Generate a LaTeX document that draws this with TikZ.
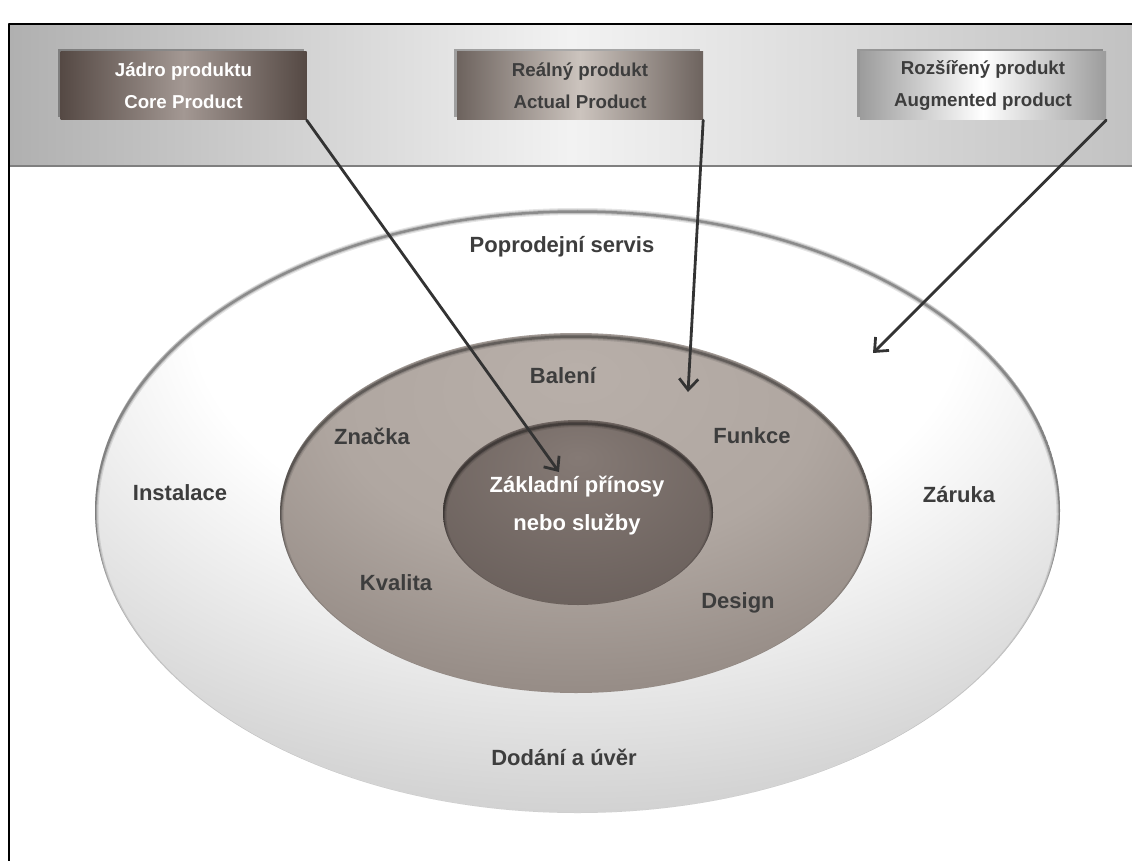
\documentclass[tikz,border=0pt]{standalone}
\usepackage{fontspec}
\setmainfont{Liberation Sans}
\usetikzlibrary{arrows.meta,shadows}

\definecolor{labelgray}{HTML}{3D3D3D}
\definecolor{arrowgray}{HTML}{333333}
\definecolor{bandside}{HTML}{B0B0B0}
\definecolor{bandmid}{HTML}{F2F2F2}
\definecolor{bandright}{HTML}{C2C2C2}
\definecolor{bandline}{HTML}{7F7F7F}
\definecolor{ringedge}{HTML}{B4B4B4}
\definecolor{coreedge}{HTML}{554944}
\definecolor{coremid}{HTML}{A39893}
\definecolor{actualedge}{HTML}{6D635E}
\definecolor{actualmid}{HTML}{CCC4BE}
\definecolor{augedge}{HTML}{9C9C9C}

% Shadings of the three rings (lighter towards the top).
\pgfdeclareradialshading{ringglow}{\pgfpoint{0bp}{22bp}}{%
  color(0bp)=(white); color(20bp)=(white); color(48bp)=(ringedge); color(80bp)=(ringedge)}
\pgfdeclareradialshading{midglow}{\pgfpoint{0bp}{20bp}}{%
  color(0bp)=(rgb,255:red,184;green,175;blue,169); color(20bp)=(rgb,255:red,176;green,167;blue,161);
  color(50bp)=(rgb,255:red,126;green,115;blue,109); color(75bp)=(rgb,255:red,112;green,101;blue,95)}
\pgfdeclareradialshading{coreglow}{\pgfpoint{0bp}{15bp}}{%
  color(0bp)=(rgb,255:red,133;green,122;blue,117); color(50bp)=(rgb,255:red,95;green,85;blue,81);
  color(75bp)=(rgb,255:red,87;green,77;blue,73)}

% Soft shadow along the inner top edge of an ellipse.
\newcommand\insetshadow[3]{%
  \begin{scope}
    \clip (#1) ellipse [x radius=#2, y radius=#3];
    \foreach \w/\o in {7pt/0.10,4.5pt/0.15,2.5pt/0.28}{
      \draw[line width=\w, black, opacity=\o] ([yshift=-3.5pt]#1) ellipse [x radius=#2, y radius=#3];
    }
  \end{scope}}

\begin{document}
\begin{tikzpicture}[
  x={(1pt,0pt)},
  y={(0pt,-1pt)},
  line join=round,
  line cap=round,
  prodbox/.style={minimum width=246pt,minimum height=68pt,inner sep=0pt,align=center,
    font=\fontsize{18.7}{32}\selectfont\bfseries,
    drop shadow={shadow xshift=-3pt,shadow yshift=3pt,opacity=0.3,fill=black}},
  ringlabel/.style={font=\fontsize{22}{38}\selectfont\bfseries,text=labelgray,align=center},
  pointer/.style={draw=arrowgray,line width=2.8pt,
    -{Straight Barb[length=11pt,width=19pt]}}
]
  \useasboundingbox (0,0) rectangle (1132,861);

  % Header band and frame.
  \shade[left color=bandside,right color=bandright,middle color=bandmid]
    (9,24) rectangle (1132,166);
  \draw[bandline,line width=1.6pt] (9,166) -- (1132,166);
  \draw[black,line width=1.6pt] (9,861) -- (9,24) -- (1132,24);

  % Ring centres.
  \coordinate (outerC) at (577.5,510.5);
  \coordinate (midC) at (576,513);
  \coordinate (coreC) at (578,512.5);

  % Augmented product ring.
  \shade[shading=ringglow] (outerC) ellipse [x radius=482.5pt,y radius=302.5pt];
  \insetshadow{outerC}{482.5pt}{302.5pt}

  % Actual product ring.
  \shade[shading=midglow] (midC) ellipse [x radius=296pt,y radius=180pt];
  \insetshadow{midC}{296pt}{180pt}

  % Core.
  \shade[shading=coreglow] (coreC) ellipse [x radius=135pt,y radius=92.5pt];
  \insetshadow{coreC}{135pt}{92.5pt}

  % Ring labels.
  \node[ringlabel] (servis) at (562,247) {Poprodejní servis};
  \node[ringlabel] (instalace) at (180,493) {Instalace};
  \node[ringlabel] (zaruka) at (959,495) {Záruka};
  \node[ringlabel] (dodani) at (564,757) {Dodání a úvěr};
  \node[ringlabel] (baleni) at (563,376) {Balení};
  \node[ringlabel] (znacka) at (372,436) {Značka};
  \node[ringlabel] (funkce) at (752,436) {Funkce};
  \node[ringlabel] (kvalita) at (396,583) {Kvalita};
  \node[ringlabel] (design) at (738,603) {Design};
  \node[ringlabel,text=white] (prinosy) at (577,506) {Základní přínosy\\nebo služby};

  % Product level boxes.
  \node[prodbox,left color=coreedge,right color=coreedge,middle color=coremid,text=white]
    (core) at (183.5,86) {Jádro produktu\\Core Product};
  \node[prodbox,left color=actualedge,right color=actualedge,middle color=actualmid,text=labelgray]
    (actual) at (580,86) {Reálný produkt\\Actual Product};
  \node[prodbox,left color=augedge,right color=augedge,middle color=white,text=labelgray]
    (augmented) at (983,86) {Rozšířený produkt\\Augmented product};

  % Arrow targets.
  \coordinate (coreTip) at (559,472);
  \coordinate (actualTip) at (688,392);
  \coordinate (augTip) at (873,353);

  \draw[pointer] (core.south east) -- (coreTip);
  \draw[pointer] (actual.south east) -- (actualTip);
  \draw[pointer] (augmented.south east) -- (augTip);
\end{tikzpicture}
\end{document}
